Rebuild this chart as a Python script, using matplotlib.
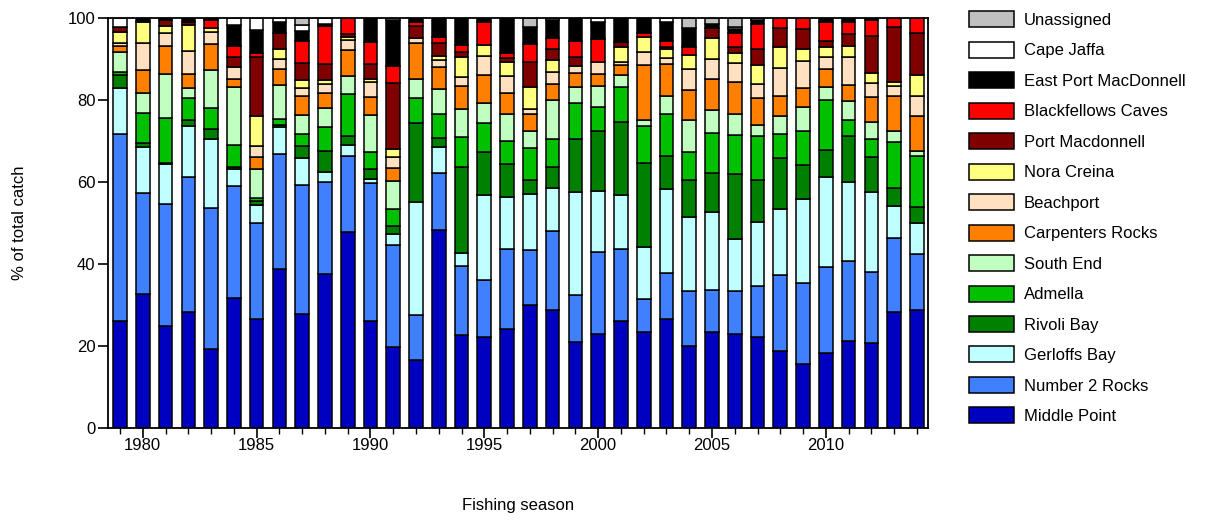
import numpy as np
import matplotlib
matplotlib.use("Agg")
import matplotlib.pyplot as plt

plt.rcParams['font.family'] = ['Liberation Sans', 'DejaVu Sans']

years = list(range(1979, 2015))

middle_point = [26.0, 32.7, 24.9, 28.4, 19.2, 31.6, 26.5, 38.9, 27.8, 37.6, 47.9, 26.1, 19.8, 16.7, 48.3, 22.7, 22.3, 24.1,
                30.0, 28.8, 20.9, 22.9, 26.2, 23.3, 26.5, 20.0, 23.3, 22.9, 22.3, 18.9, 15.6, 18.2, 21.3, 20.7, 28.4, 28.8]
number2_rocks = [45.8, 24.7, 29.7, 32.9, 34.5, 27.3, 23.4, 27.9, 31.5, 22.5, 18.4, 33.6, 24.8, 10.9, 13.8, 16.8, 13.8, 19.6,
                 13.4, 19.2, 11.5, 20.1, 17.4, 8.1, 11.2, 13.4, 10.4, 10.5, 12.3, 18.3, 19.7, 21.0, 19.5, 17.3, 17.9, 13.6]
gerloffs_bay = [11.2, 11.2, 9.7, 12.4, 16.7, 4.2, 4.5, 6.5, 6.6, 2.4, 2.7, 1.0, 2.6, 27.6, 6.5, 3.1, 20.7, 12.7,
                13.7, 10.5, 25.2, 14.8, 13.2, 12.8, 20.5, 18.1, 18.9, 12.6, 15.7, 16.2, 20.5, 21.9, 19.3, 19.6, 7.8, 7.5]
rivoli_bay = [3.0, 1.0, 0.4, 1.4, 2.6, 0.6, 0.9, 0.6, 2.9, 5.1, 2.1, 2.4, 2.1, 19.1, 2.1, 21.0, 10.4, 8.0,
              3.4, 5.1, 12.8, 14.7, 17.9, 20.5, 8.1, 9.0, 9.5, 15.9, 10.2, 12.5, 8.3, 6.7, 11.0, 8.6, 4.4, 4.1]
admella = [0.8, 7.3, 10.8, 5.3, 5.1, 5.3, 0.9, 1.4, 2.9, 5.9, 10.4, 4.3, 4.1, 6.1, 6.0, 7.3, 7.3, 5.6,
           7.7, 6.8, 8.9, 5.9, 8.4, 9.0, 10.4, 6.9, 9.9, 9.6, 10.7, 5.7, 8.4, 12.2, 4.0, 4.2, 11.3, 12.3]
south_end = [4.8, 4.7, 10.8, 2.5, 9.2, 14.1, 6.9, 8.4, 4.6, 4.5, 4.4, 8.9, 6.9, 4.7, 5.9, 6.8, 4.7, 6.6,
             4.3, 9.6, 3.8, 5.0, 3.0, 1.4, 4.3, 7.7, 5.6, 5.2, 2.7, 4.5, 5.9, 3.1, 4.7, 4.3, 2.7, 1.3]
carpenters_rocks = [1.5, 5.6, 6.9, 3.4, 6.3, 2.0, 3.1, 3.8, 4.7, 3.6, 6.3, 4.4, 3.0, 8.7, 5.5, 5.6, 6.9, 5.0,
                    4.1, 3.9, 3.4, 2.9, 2.4, 13.4, 7.8, 7.3, 7.4, 7.8, 6.5, 4.9, 4.4, 4.4, 3.9, 6.0, 8.5, 8.5]
beachport = [0.8, 6.6, 3.2, 5.7, 3.1, 3.0, 2.6, 2.4, 1.8, 2.3, 2.4, 3.8, 2.9, 1.2, 1.7, 2.4, 4.7, 4.3,
             1.1, 3.0, 1.8, 3.0, 0.8, 3.3, 1.4, 5.1, 4.9, 4.6, 3.5, 6.9, 6.8, 2.9, 6.7, 3.4, 2.4, 4.9]
nora_creina = [2.6, 5.1, 1.6, 6.4, 0.8, 0.0, 7.3, 2.5, 2.1, 1.0, 0.8, 0.6, 1.8, 0.0, 1.0, 4.9, 2.6, 3.4,
               5.4, 2.9, 0.0, 0.0, 3.5, 3.6, 2.2, 3.5, 5.1, 2.4, 4.6, 4.9, 2.8, 2.6, 2.8, 2.6, 1.1, 5.1]
port_macdonnell = [1.3, 0.0, 1.5, 0.6, 0.0, 2.5, 14.5, 3.9, 4.2, 3.9, 0.7, 3.7, 16.2, 3.0, 3.0, 1.2, 0.0, 0.9,
                   6.1, 2.6, 2.3, 0.0, 1.3, 0.0, 0.5, 0.0, 2.5, 1.3, 3.9, 4.7, 4.8, 1.4, 2.9, 8.9, 13.4, 10.3]
blackfellows_caves = [0.0, 0.0, 0.0, 0.0, 2.0, 2.6, 0.9, 0.0, 5.3, 9.2, 3.9, 5.3, 4.1, 1.0, 1.6, 1.6, 5.5, 1.3,
                      4.4, 2.6, 3.9, 5.5, 0.0, 0.9, 1.6, 1.8, 0.0, 3.6, 6.1, 2.5, 2.8, 4.7, 2.8, 3.9, 2.1, 3.6]
east_port_macdonnell = [0.0, 1.1, 0.5, 1.0, 0.5, 5.1, 5.6, 2.8, 2.5, 0.5, 0.0, 5.9, 11.2, 1.0, 4.6, 6.6, 1.1, 8.5,
                        4.3, 4.5, 5.5, 4.3, 5.9, 3.7, 4.4, 4.7, 1.0, 0.8, 1.0, 0.0, 0.0, 0.9, 1.1, 0.5, 0.0, 0.0]
cape_jaffa = [2.2, 0.0, 0.0, 0.0, 0.0, 1.7, 2.9, 0.9, 1.5, 1.5, 0.0, 0.0, 0.5, 0.0, 0.0, 0.0, 0.0, 0.0,
              0.0, 0.0, 0.0, 0.9, 0.0, 0.0, 1.1, 0.0, 0.0, 0.6, 0.5, 0.0, 0.0, 0.0, 0.0, 0.0, 0.0, 0.0]
unassigned = [0.0, 0.0, 0.0, 0.0, 0.0, 0.0, 0.0, 0.0, 1.6, 0.0, 0.0, 0.0, 0.0, 0.0, 0.0, 0.0, 0.0, 0.0,
              2.1, 0.5, 0.0, 0.0, 0.0, 0.0, 0.0, 2.5, 1.5, 2.2, 0.0, 0.0, 0.0, 0.0, 0.0, 0.0, 0.0, 0.0]

# bottom-to-top stacking order
series_names = ["Middle Point", "Number 2 Rocks", "Gerloffs Bay", "Rivoli Bay", "Admella", "South End",
                "Carpenters Rocks", "Beachport", "Nora Creina", "Port Macdonnell", "Blackfellows Caves",
                "East Port MacDonnell", "Cape Jaffa", "Unassigned"]
series_values = [middle_point, number2_rocks, gerloffs_bay, rivoli_bay, admella, south_end, carpenters_rocks,
                 beachport, nora_creina, port_macdonnell, blackfellows_caves, east_port_macdonnell,
                 cape_jaffa, unassigned]
series_colors = ["#0000C0", "#4080FF", "#C0FFFF", "#008000", "#00C000", "#C0FFC0", "#FF8000",
                 "#FFE0C0", "#FFFF80", "#800000", "#FF0000", "#000000", "#FFFFFF", "#C0C0C0"]

fig = plt.figure(figsize=(12.2, 5.21), dpi=100)
ax = fig.add_axes([0.0885, 0.1785, 0.672, 0.787])

x = np.array(years, dtype=float)
bottom = np.zeros(len(years))
handles = []
for name, vals, col in zip(series_names, series_values, series_colors):
    v = np.array(vals, dtype=float)
    mask = v > 0
    h = ax.bar(x[mask], v[mask], bottom=bottom[mask], width=0.6, color=col,
               edgecolor="black", linewidth=1.1, label=name)
    handles.append(h)
    bottom += v

ax.set_xlim(1978.47, 2014.48)
ax.set_ylim(0, 100)
ax.set_yticks([0, 20, 40, 60, 80, 100])
ax.set_xticks([1980, 1985, 1990, 1995, 2000, 2005, 2010])
ax.set_xticks(years, minor=True)
ax.tick_params(axis='both', which='major', labelsize=12, direction='out', length=7, width=1.2, pad=2)
ax.tick_params(axis='x', which='major', pad=0.5)
ax.tick_params(axis='x', which='minor', direction='out', length=4, width=1.0)
for s in ax.spines.values():
    s.set_linewidth(1.3)

ax.set_ylabel("% of total catch", fontsize=12, labelpad=29)
ax.set_xlabel("Fishing season", fontsize=12, labelpad=32)

leg = fig.legend(handles[::-1], series_names[::-1], loc='upper left', bbox_to_anchor=(0.7885, 0.991),
                 frameon=False, fontsize=12, handlelength=2.7, handleheight=1.1,
                 labelspacing=0.828, handletextpad=0.6, borderaxespad=0)

fig.savefig("out.png", dpi=100)
